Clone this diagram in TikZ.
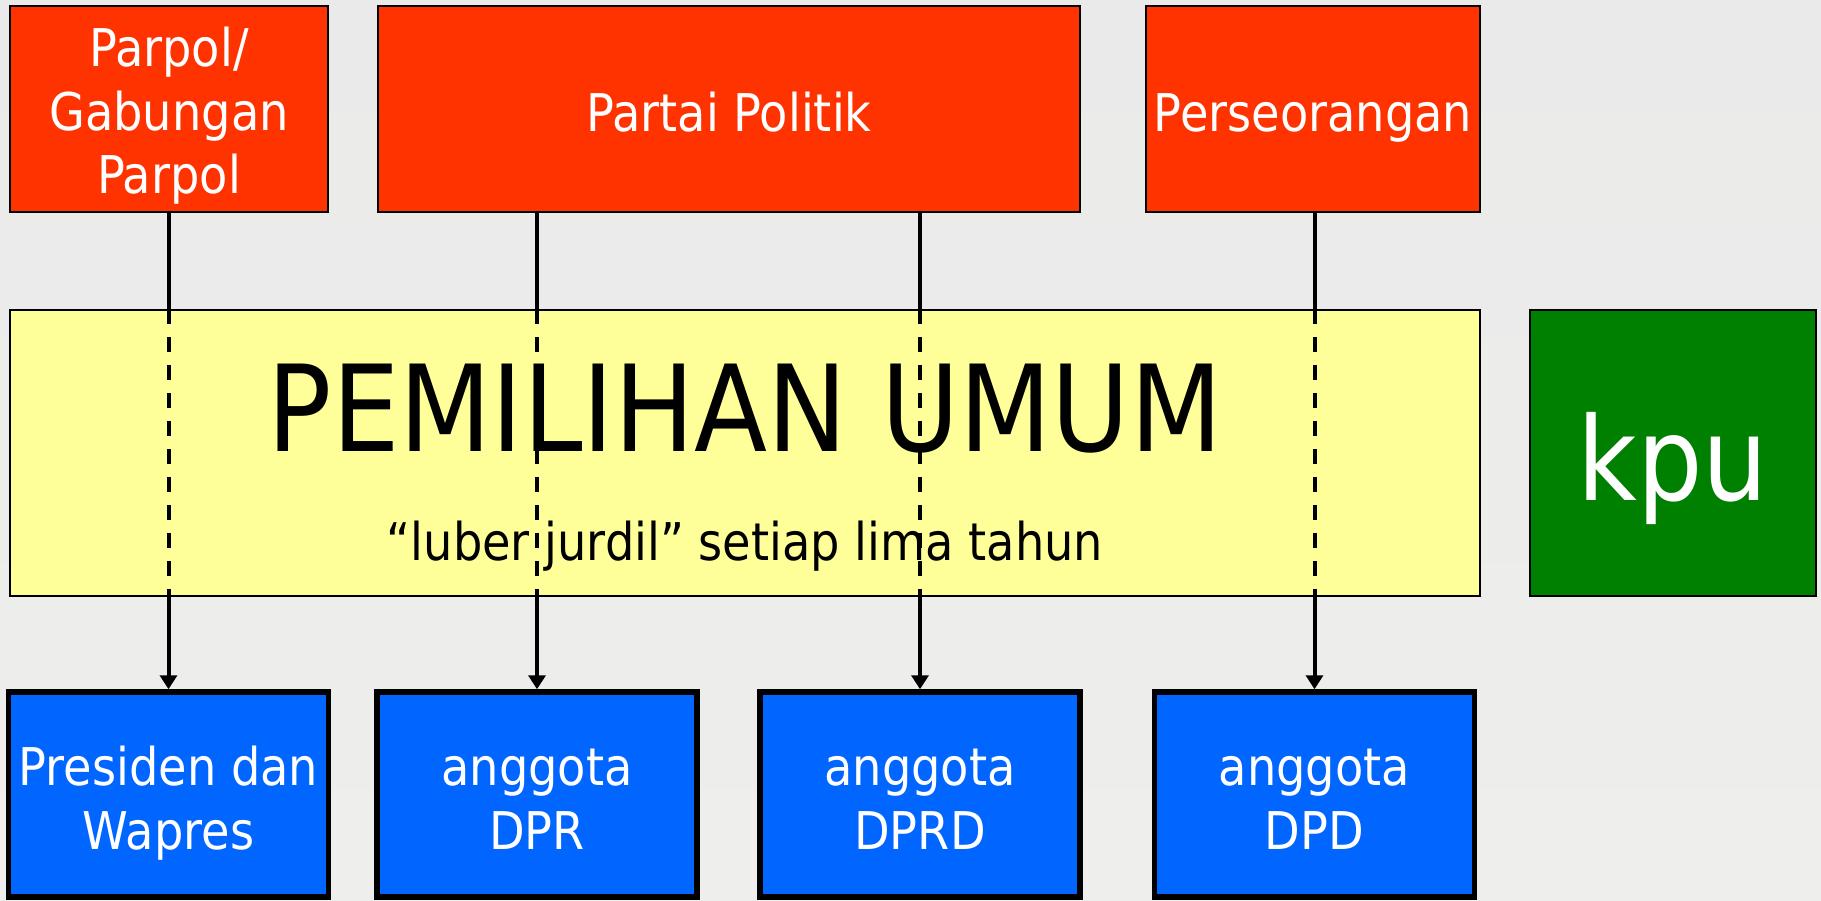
\documentclass[tikz,border=0pt]{standalone}
\usepackage{fontspec}
\setmainfont{DejaVu Sans}[FakeStretch=0.89]
\usetikzlibrary{arrows.meta,calc}
\definecolor{redbox}{RGB}{255,51,0}
\definecolor{yelbox}{RGB}{255,255,153}
\definecolor{kpugreen}{RGB}{0,128,0}
\definecolor{bluebox}{RGB}{0,102,255}
\definecolor{bgtop}{RGB}{234,234,234}
\definecolor{bgmid}{RGB}{222,222,220}
\definecolor{bgbot}{RGB}{238,238,236}
\tikzset{
  redstyle/.style={draw=black, line width=2.5pt, fill=redbox, inner sep=0pt, minimum height=206pt},
  yelstyle/.style={draw=black, line width=2.5pt, fill=yelbox, inner sep=0pt},
  greenstyle/.style={draw=black, line width=2.5pt, fill=kpugreen, inner sep=0pt},
  bluestyle/.style={draw=black, line width=5.5pt, fill=bluebox, inner sep=0pt, minimum width=320pt, minimum height=205pt},
  wtxt/.style={text=white, align=center, inner sep=0pt, font=\fontsize{52}{63.5}\selectfont},
  btxt/.style={text=black, align=center, inner sep=0pt, font=\fontsize{52}{63.5}\selectfont},
  conn/.style={line width=4pt, draw=black},
  dconn/.style={conn, dash pattern=on 15pt off 13pt},
  aconn/.style={conn, -{Triangle[length=14pt,width=17pt]}}
}
\begin{document}
\begin{tikzpicture}[x=1pt,y=-1pt]
\useasboundingbox (0,0) rectangle (1821,900);
\shade[top color=bgtop, middle color=bgmid, bottom color=bgbot] (0,0) rectangle (1821,900);

% top boxes
\node[redstyle, minimum width=318pt] (parpol) at (169,109) {};
\node[redstyle, minimum width=702pt] (partai) at (729,109) {};
\node[redstyle, minimum width=334pt] (perse) at (1313,109) {};
\node[wtxt] (parpolt) at (169,117.5) {\strut Parpol/\\\strut Gabungan\\\strut Parpol};
\node[wtxt, anchor=base] (partait) at (729,131) {Partai Politik};
\node[wtxt, anchor=base] (perset) at (1313,131) {Perseorangan};

% middle
\node[yelstyle, minimum width=1470pt, minimum height=286pt] (pemilu) at (745,453) {};
\node[greenstyle, minimum width=286pt, minimum height=286pt] (kpu) at (1673,453) {};
\node[btxt, anchor=base, font=\fontsize{120}{140}\selectfont] (pemilut) at (745,451.7) {PEMILIHAN UMUM};
\node[btxt, anchor=base] (luber) at (745,560) {“luber jurdil” setiap lima tahun};
\node[wtxt, anchor=base, font=\fontsize{116}{130}\selectfont] (kput) at (1673,500) {kpu};

% bottom boxes
\node[bluestyle] (pres) at (168.5,794.5) {};
\node[bluestyle] (dpr) at (537,794.5) {};
\node[bluestyle] (dprd) at (920,794.5) {};
\node[bluestyle] (dpd) at (1314.5,794.5) {};
\node[wtxt] (prest) at (168.5,804.75) {\strut Presiden dan\\\strut Wapres};
\node[wtxt] (dprt) at (537,804.75) {\strut anggota\\\strut DPR};
\node[wtxt] (dprdt) at (920,804.75) {\strut anggota\\\strut DPRD};
\node[wtxt] (dpdt) at (1314.5,804.75) {\strut anggota\\\strut DPD};

% connectors
\draw[conn] (pres.north |- parpol.south) -- (pres.north |- pemilu.north);
\draw[dconn] (pres.north |- pemilu.north) -- (pres.north |- pemilu.south);
\draw[aconn] (pres.north |- pemilu.south) -- (pres.north);

\draw[conn] (dpr.north |- partai.south) -- (dpr.north |- pemilu.north);
\draw[dconn] (dpr.north |- pemilu.north) -- (dpr.north |- pemilu.south);
\draw[aconn] (dpr.north |- pemilu.south) -- (dpr.north);

\draw[conn] (dprd.north |- partai.south) -- (dprd.north |- pemilu.north);
\draw[dconn] (dprd.north |- pemilu.north) -- (dprd.north |- pemilu.south);
\draw[aconn] (dprd.north |- pemilu.south) -- (dprd.north);

\draw[conn] (dpd.north |- perse.south) -- (dpd.north |- pemilu.north);
\draw[dconn] (dpd.north |- pemilu.north) -- (dpd.north |- pemilu.south);
\draw[aconn] (dpd.north |- pemilu.south) -- (dpd.north);
\end{tikzpicture}
\end{document}
